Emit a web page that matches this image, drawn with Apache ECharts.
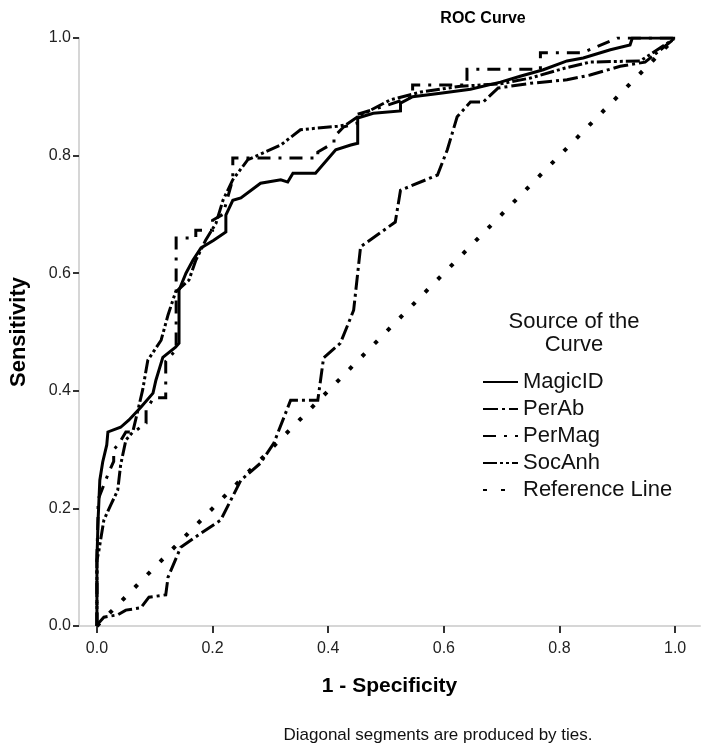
<!DOCTYPE html>
<html>
<head>
<meta charset="utf-8">
<script src="https://cdn.jsdelivr.net/npm/echarts@6/dist/echarts.min.js"></script>
<style>
  html, body { margin: 0; padding: 0; background: #fff; }
  #chart { width: 703px; height: 753px; }
</style>
</head>
<body>
<div id="chart"></div>
<script>
// ROC points [1 - specificity, sensitivity]
var magicId = [
  [0, 0], [0, 0.112], [0.002, 0.18], [0.005, 0.248], [0.01, 0.279], [0.017, 0.308],
  [0.019, 0.33], [0.041, 0.338], [0.055, 0.35], [0.076, 0.372], [0.097, 0.396],
  [0.102, 0.418], [0.114, 0.457], [0.136, 0.474], [0.142, 0.481], [0.142, 0.571],
  [0.154, 0.6], [0.166, 0.622], [0.18, 0.643], [0.202, 0.656], [0.223, 0.67],
  [0.223, 0.699], [0.235, 0.724], [0.249, 0.728], [0.283, 0.753], [0.318, 0.759],
  [0.33, 0.755], [0.339, 0.77], [0.378, 0.77], [0.413, 0.81], [0.439, 0.818],
  [0.451, 0.821], [0.451, 0.864], [0.478, 0.872], [0.525, 0.876], [0.525, 0.889],
  [0.546, 0.9], [0.594, 0.906], [0.646, 0.913], [0.698, 0.925], [0.732, 0.935],
  [0.772, 0.946], [0.813, 0.961], [0.841, 0.966], [0.888, 0.98], [0.922, 0.988],
  [0.926, 1], [1, 1]
];
var perAb = [
  [0, 0], [0.003, 0.005], [0.012, 0.015], [0.036, 0.019], [0.05, 0.027], [0.076, 0.031],
  [0.09, 0.049], [0.119, 0.053], [0.123, 0.083], [0.145, 0.134], [0.18, 0.158],
  [0.214, 0.18], [0.249, 0.248], [0.283, 0.277], [0.306, 0.311], [0.335, 0.384],
  [0.382, 0.384], [0.392, 0.456], [0.421, 0.481], [0.444, 0.537], [0.456, 0.645],
  [0.516, 0.687], [0.525, 0.741], [0.589, 0.767], [0.606, 0.81], [0.623, 0.866],
  [0.646, 0.891], [0.668, 0.891], [0.694, 0.915], [0.75, 0.923], [0.813, 0.929],
  [0.853, 0.937], [0.905, 0.952], [0.948, 0.959], [1, 1]
];
var perMag = [
  [0, 0], [0, 0.12], [0.002, 0.19], [0.002, 0.215], [0.012, 0.24], [0.02, 0.26],
  [0.029, 0.28], [0.029, 0.3], [0.038, 0.31], [0.05, 0.33], [0.064, 0.33],
  [0.085, 0.345], [0.085, 0.367], [0.098, 0.388], [0.119, 0.388], [0.119, 0.45],
  [0.137, 0.47], [0.137, 0.66], [0.171, 0.66], [0.171, 0.673], [0.2, 0.673],
  [0.2, 0.69], [0.218, 0.7], [0.235, 0.76], [0.235, 0.796], [0.382, 0.796],
  [0.382, 0.806], [0.41, 0.822], [0.41, 0.832], [0.427, 0.849], [0.45, 0.855],
  [0.45, 0.87], [0.5, 0.885], [0.546, 0.9], [0.546, 0.92], [0.64, 0.92],
  [0.64, 0.947], [0.767, 0.947], [0.767, 0.975], [0.84, 0.975], [0.9, 1], [1, 1]
];
var socAnh = [
  [0, 0], [0, 0.112], [0.003, 0.126], [0.012, 0.18], [0.024, 0.206], [0.036, 0.231],
  [0.041, 0.274], [0.05, 0.316], [0.062, 0.33], [0.079, 0.401], [0.088, 0.452],
  [0.111, 0.486], [0.123, 0.529], [0.136, 0.568], [0.159, 0.588], [0.171, 0.622],
  [0.188, 0.656], [0.206, 0.685], [0.218, 0.724], [0.235, 0.759], [0.261, 0.793],
  [0.318, 0.818], [0.352, 0.844], [0.416, 0.85], [0.43, 0.852], [0.451, 0.866],
  [0.508, 0.895], [0.56, 0.908], [0.629, 0.918], [0.698, 0.922], [0.75, 0.932],
  [0.81, 0.949], [0.853, 0.959], [0.94, 0.961], [1, 1]
];
var refLine = [[0, 0], [1, 1]];

var seriesNames = ['MagicID', 'PerAb', 'PerMag', 'SocAnh', 'Reference Line'];
var tickValues = [0, 0.2, 0.4, 0.6, 0.8, 1.0];

var font = '"Liberation Sans", Arial, sans-serif';

function rocLine(name, data, dash, width) {
  return {
    name: name,
    type: 'line',
    data: data,
    symbol: 'none',
    silent: true,
    animation: false,
    itemStyle: { color: '#000' },
    lineStyle: { color: '#000', width: width, type: dash, cap: 'butt', join: 'miter' }
  };
}

var chart = echarts.init(document.getElementById('chart'), null, { renderer: 'canvas' });
var option = {
  backgroundColor: '#fff',
  animation: false,
  textStyle: { fontFamily: font },
  title: [
    {
      text: 'ROC Curve', left: 478, top: 6, textAlign: 'center',
      textStyle: { fontSize: 16, fontWeight: 'bold', color: '#000', fontFamily: font }
    },
    {
      text: 'Source of the\nCurve', left: 569, top: 305, textAlign: 'center',
      textStyle: { fontSize: 22, fontWeight: 'normal', color: '#111', lineHeight: 23, fontFamily: font }
    },
    {
      text: 'Diagonal segments are produced by ties.', left: 433, top: 722, textAlign: 'center',
      textStyle: { fontSize: 17, fontWeight: 'normal', color: '#111', fontFamily: font }
    }
  ],
  legend: {
    orient: 'vertical',
    left: 477,
    top: 366,
    itemWidth: 35,
    itemHeight: 12,
    itemGap: 5,
    selectedMode: false,
    data: seriesNames,
    itemStyle: { opacity: 0 },
    textStyle: { fontSize: 22, color: '#111', fontFamily: font }
  },
  grid: { left: 78, right: 3, top: 38, bottom: 127, containLabel: false },
  xAxis: {
    type: 'value',
    min: -0.031,
    max: 1.043,
    name: '1 - Specificity',
    nameLocation: 'middle',
    nameGap: 50,
    nameTextStyle: { fontSize: 21, fontWeight: 'bold', color: '#000', fontFamily: font },
    axisLine: { onZero: false, lineStyle: { color: '#d6d6d6', width: 2 } },
    axisTick: { customValues: tickValues, length: 7, lineStyle: { color: '#333', width: 2 } },
    axisLabel: {
      customValues: tickValues, margin: 15, fontSize: 16, color: '#222',
      formatter: function (v) { return v.toFixed(1); }
    },
    splitLine: { show: false }
  },
  yAxis: {
    type: 'value',
    min: 0,
    max: 1,
    interval: 0.2,
    name: 'Sensitivity',
    nameLocation: 'middle',
    nameGap: 49,
    nameTextStyle: { fontSize: 22, fontWeight: 'bold', color: '#000', fontFamily: font },
    axisLine: { show: true, onZero: false, lineStyle: { color: '#d6d6d6', width: 2 } },
    axisTick: { show: true, length: 6, lineStyle: { color: '#333', width: 2 } },
    axisLabel: {
      margin: 8, fontSize: 16, color: '#222',
      formatter: function (v) { return v.toFixed(1); }
    },
    splitLine: { show: false }
  },
  series: [
    rocLine('MagicID', magicId, 'solid', 3),
    rocLine('PerAb', perAb, [15, 4, 3, 4], 3),
    rocLine('PerMag', perMag, [13, 8, 3, 8], 3),
    rocLine('SocAnh', socAnh, [14, 3, 3, 3, 3, 3], 3),
    rocLine('Reference Line', refLine, [4, 14], 4)
  ]
};
chart.setOption(option);
</script>
</body>
</html>
